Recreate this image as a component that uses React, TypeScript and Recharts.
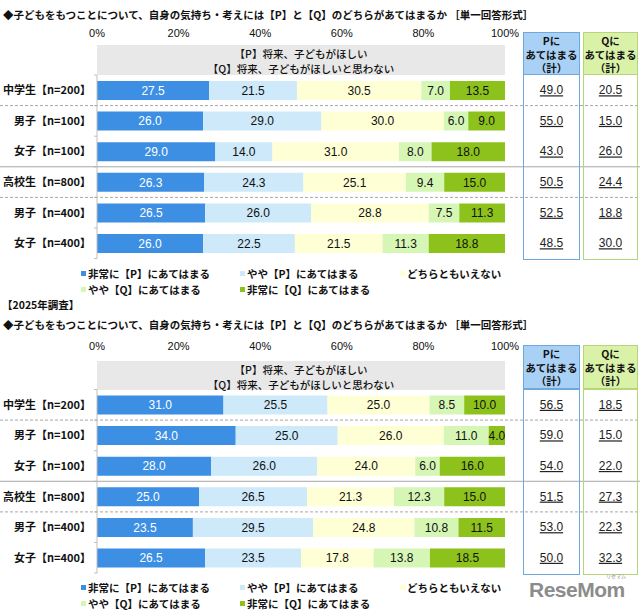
import { Bar, BarChart, LabelList, ReferenceLine, XAxis, YAxis } from 'recharts'

const categories = ['中学生【n=200】', '男子【n=100】', '女子【n=100】', '高校生【n=800】', '男子【n=400】', '女子【n=400】']
const seriesKeys = ['veryP', 'someP', 'neither', 'someQ', 'veryQ']
const seriesNames = ['非常に【P】にあてはまる', 'やや【P】にあてはまる', 'どちらともいえない', 'やや【Q】にあてはまる', '非常に【Q】にあてはまる']
const seriesColors = ['#3C8FE3', '#CDE9FA', '#FFFFD6', '#D6F6B6', '#8DC21C']
const labelColors = ['#ffffff', '#111111', '#111111', '#111111', '#111111']
const xTicks = [0, 20, 40, 60, 80, 100]

// earlier survey
const prevVeryP = [27.5, 26.0, 29.0, 26.3, 26.5, 26.0]
const prevSomeP = [21.5, 29.0, 14.0, 24.3, 26.0, 22.5]
const prevNeither = [30.5, 30.0, 31.0, 25.1, 28.8, 21.5]
const prevSomeQ = [7.0, 6.0, 8.0, 9.4, 7.5, 11.3]
const prevVeryQ = [13.5, 9.0, 18.0, 15.0, 11.3, 18.8]
const prevTotalP = [49.0, 55.0, 43.0, 50.5, 52.5, 48.5]
const prevTotalQ = [20.5, 15.0, 26.0, 24.4, 18.8, 30.0]

// 2025 survey
const curVeryP = [31.0, 34.0, 28.0, 25.0, 23.5, 26.5]
const curSomeP = [25.5, 25.0, 26.0, 26.5, 29.5, 23.5]
const curNeither = [25.0, 26.0, 24.0, 21.3, 24.8, 17.8]
const curSomeQ = [8.5, 11.0, 6.0, 12.3, 10.8, 13.8]
const curVeryQ = [10.0, 4.0, 16.0, 15.0, 11.5, 18.5]
const curTotalP = [56.5, 59.0, 54.0, 51.5, 53.0, 50.0]
const curTotalQ = [18.5, 15.0, 22.0, 27.3, 22.3, 32.3]

const TITLE = '◆子どもをもつことについて、自身の気持ち・考えには【P】と【Q】のどちらがあてはまるか ［単一回答形式］'
const JP = '"Noto Sans CJK JP", "Noto Sans", sans-serif'
const NUM = '"Liberation Sans", Arial, sans-serif'
const ROW_H = 30.6

function buildRows(series: number[][], totP: number[], totQ: number[]) {
  return categories.map((label, i) => ({
    label,
    veryP: series[0][i],
    someP: series[1][i],
    neither: series[2][i],
    someQ: series[3][i],
    veryQ: series[4][i],
    totalP: totP[i],
    totalQ: totQ[i],
  }))
}

const prevRows = buildRows([prevVeryP, prevSomeP, prevNeither, prevSomeQ, prevVeryQ], prevTotalP, prevTotalQ)
const curRows = buildRows([curVeryP, curSomeP, curNeither, curSomeQ, curVeryQ], curTotalP, curTotalQ)

function Legend({ top }: { top: number }) {
  const pos = [
    [81, 0],
    [240, 0],
    [400, 0],
    [81, 16],
    [240, 16],
  ]
  return (
    <>
      {seriesNames.map((n, i) => (
        <div
          key={n}
          style={{ position: 'absolute', left: pos[i][0], top: top + pos[i][1] - 8, height: 16, display: 'flex', alignItems: 'center', fontFamily: JP, fontWeight: 700, fontSize: 10.5, color: '#111', whiteSpace: 'nowrap' }}
        >
          <span style={{ width: 5, height: 5, background: seriesColors[i], marginRight: 2, display: 'inline-block' }} />
          {n}
        </div>
      ))}
    </>
  )
}

function TableCol({ left, width, top, headTop, bottom, head, border, bg }: any) {
  return (
    <>
      <div style={{ position: 'absolute', left, top: headTop, width, height: top - headTop, boxSizing: 'border-box', border: `1.5px solid ${border}`, background: bg, fontFamily: JP, fontWeight: 700, fontSize: 10.5, lineHeight: '13.5px', textAlign: 'center', color: '#111', paddingTop: 1 }}>
        {head.map((h: string) => (
          <div key={h}>{h}</div>
        ))}
      </div>
      <div style={{ position: 'absolute', left, top: top - 1.5, width, height: bottom - top + 1.5, boxSizing: 'border-box', border: `1.5px solid ${border}` }} />
    </>
  )
}

function Panel({ rows, titleY, tickY, headerTop, plotTop, tableTop, note, noteY }: any) {
  const plotH = ROW_H * rows.length
  const wrapTop = tickY - 20
  const chartH = plotTop - wrapTop + plotH + 4
  const plotBottom = plotTop + plotH
  const last = rows[rows.length - 1].label

  const TotalsTick = (p: any) => {
    const i = p.index ?? p.payload?.index ?? 0
    const r = rows[i]
    return (
      <g fontFamily={NUM} fontSize={12} fill="#222">
        <text x={p.x + 46.5} y={p.y} dy={4} textAnchor="middle" textDecoration="underline">{r.totalP.toFixed(1)}</text>
        <text x={p.x + 105.5} y={p.y} dy={4} textAnchor="middle" textDecoration="underline">{r.totalQ.toFixed(1)}</text>
      </g>
    )
  }

  const fullLine = (dash?: string) => (p: any) => (
    <line x1={0} x2={640} y1={p.y1} y2={p.y2} stroke="#A6A6A6" strokeWidth={1} strokeDasharray={dash} />
  )
  const shortTick = (p: any) => <line x1={p.x1 - 3} x2={p.x1} y1={p.y1} y2={p.y2} stroke="#BFBFBF" strokeWidth={1} />

  return (
    <>
      {note && (
        <div style={{ position: 'absolute', left: 2, top: noteY - 8, lineHeight: '16px', fontFamily: JP, fontWeight: 700, fontSize: 10.5, color: '#111' }}>{note}</div>
      )}
      <div style={{ position: 'absolute', left: 3, top: titleY - 8, lineHeight: '16px', fontFamily: JP, fontWeight: 700, fontSize: 10.5, color: '#111', whiteSpace: 'nowrap' }}>{TITLE}</div>
      <div style={{ position: 'absolute', left: 97, top: headerTop, width: 408, height: plotTop - headerTop, background: '#E8E8E8', fontFamily: JP, fontWeight: 500, fontSize: 10.5, color: '#111', textAlign: 'center', lineHeight: '15px', paddingTop: 1, boxSizing: 'border-box' }}>
        <div>【P】将来、子どもがほしい</div>
        <div>【Q】将来、子どもがほしいと思わない</div>
      </div>
      <div style={{ position: 'absolute', left: 0, top: wrapTop, width: 640, height: chartH }}>
        <BarChart
          width={640}
          height={chartH}
          data={rows}
          layout="vertical"
          margin={{ top: plotTop - wrapTop - 30, right: 0, bottom: chartH - (plotTop - wrapTop) - plotH, left: 0 }}
          barCategoryGap={0}
        >
          <XAxis
            type="number"
            orientation="top"
            domain={[0, 100]}
            allowDataOverflow
            ticks={xTicks}
            tickFormatter={(v) => `${v}%`}
            axisLine={false}
            tickLine={false}
            tickSize={0}
            height={30}
            tickMargin={plotTop - tickY - 4}
            tick={{ fontSize: 11, fill: '#111', fontFamily: NUM }}
            interval={0}
          />
          <YAxis
            yAxisId="cat"
            type="category"
            dataKey="label"
            width={97}
            axisLine={{ stroke: '#BFBFBF' }}
            tickLine={false}
            tickSize={0}
            tickMargin={6}
            tick={{ fontSize: 11, fontWeight: 700, fill: '#111', fontFamily: JP }}
            interval={0}
          />
          <YAxis yAxisId="tot" type="category" dataKey="label" orientation="right" width={135} axisLine={false} tickLine={false} tickSize={0} tickMargin={0} tick={TotalsTick} interval={0} />
          {rows.map((r: any) => (
            <ReferenceLine key={`t${r.label}`} y={r.label} yAxisId="cat" position="start" shape={shortTick} />
          ))}
          <ReferenceLine y={last} yAxisId="cat" position="end" shape={shortTick} />
          <ReferenceLine y={rows[1].label} yAxisId="cat" position="start" shape={fullLine('3 2')} />
          <ReferenceLine y={rows[3].label} yAxisId="cat" position="start" shape={fullLine()} />
          <ReferenceLine y={rows[4].label} yAxisId="cat" position="start" shape={fullLine('3 2')} />
          {seriesKeys.map((k, i) => (
            <Bar key={k} dataKey={k} name={seriesNames[i]} stackId="s" yAxisId="cat" fill={seriesColors[i]} barSize={19} isAnimationActive={false}>
              <LabelList dataKey={k} position="center" formatter={(v: any) => Number(v).toFixed(1)} fill={labelColors[i]} fontSize={12} fontFamily={NUM} />
            </Bar>
          ))}
        </BarChart>
      </div>
      <TableCol left={523} width={57} headTop={tableTop} top={plotTop} bottom={plotBottom + 1.5} head={['Pに', 'あてはまる', '（計）']} border="#6FA8DC" bg="#A9D0F5" />
      <TableCol left={583} width={55} headTop={tableTop} top={plotTop} bottom={plotBottom + 1.5} head={['Qに', 'あてはまる', '（計）']} border="#B5D67A" bg="#DAF2A8" />
      <Legend top={plotBottom + 14.5} />
    </>
  )
}

export default function App() {
  return (
    <div style={{ position: 'absolute', left: 0, top: 0, width: 640, height: 612, background: '#fff', overflow: 'hidden' }}>
      <Panel rows={prevRows} titleY={15} tickY={33} headerTop={45} plotTop={75} tableTop={32} />
      <Panel rows={curRows} note="【2025年調査】" noteY={305} titleY={325} tickY={346} headerTop={361} plotTop={389.5} tableTop={345} />
      <div style={{ position: 'absolute', left: 529, top: 580, lineHeight: '20px', fontFamily: NUM, fontWeight: 700, fontSize: 21, color: '#8C8C8C', letterSpacing: -0.5 }}>ReseMom</div>
      <div style={{ position: 'absolute', left: 606, top: 572, lineHeight: '7px', fontFamily: JP, fontSize: 5, color: '#8C8C8C' }}>リセマム</div>
    </div>
  )
}
